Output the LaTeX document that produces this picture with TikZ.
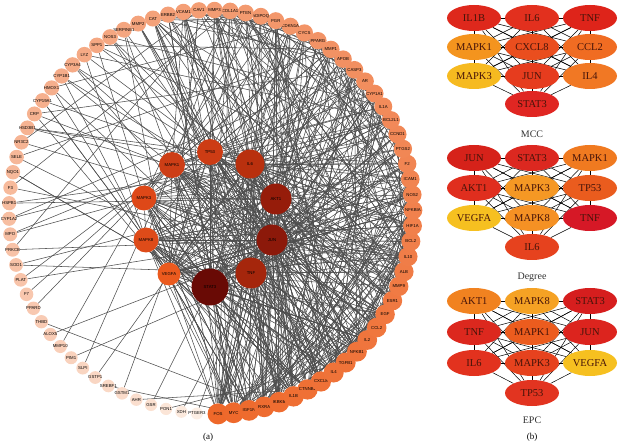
\documentclass[tikz,border=0pt]{standalone}
\usepackage{fontspec}
\setmainfont{Liberation Serif}
\setsansfont{Liberation Sans}
\usetikzlibrary{backgrounds,shapes.geometric}
\definecolor{ringA}{RGB}{238,104,42}
\definecolor{ringB}{RGB}{252,238,228}
\definecolor{edgegray}{RGB}{78,78,78}
\definecolor{elltext}{RGB}{70,20,10}
\begin{document}
\begin{tikzpicture}[x=1pt,y=-1pt,
  ring/.style={circle,inner sep=0pt,draw=none},
  rlab/.style={font=\fontsize{4.3}{5}\selectfont\sffamily,text=black,inner sep=0pt},
  hub/.style={circle,inner sep=0pt,draw=none,font=\fontsize{4.3}{5}\selectfont\sffamily,text=black},
  edge/.style={draw=edgegray,line width=0.55pt},
  ell/.style={ellipse,inner sep=0pt,minimum width=54pt,minimum height=26pt,draw=none,
     font=\fontsize{10.5}{12}\selectfont,text=elltext},
  bedge/.style={draw=black,line width=0.5pt},
  captext/.style={font=\fontsize{10}{12}\selectfont,text={rgb,255:red,50;green,50;blue,50}},
]
\useasboundingbox (0,0) rectangle (621,446);

% ring nodes
\foreach \name [count=\i] in {FOS,MYC,IGF1R,RXRA,IKBKB,IL1B,CTNNB1,CXCL8,IL4,TGFB1,NFKB1,IL2,CCL2,EGF,ESR1,MMP9,ALB,IL10,BCL2,HIF1A,NFKBIA,NOS2,ICAM1,F2,PTGS2,CCND1,BCL2L1,IL1A,CYP1A1,AR,CASP3,APOB,MMP1,PPARG,CYCS,CDKN1A,PGR,ADIPOQ,PTEN,COL1A1,MMP3,CAV1,VCAM1,ERBB2,CAT,MMP2,SERPINE1,NOS3,SPP1,LYZ,CYP3A4,CYP1B1,HMOX1,CYP19A1,CRP,HSD3B1,NR3C2,SELE,NQO1,F3,HSPB1,CYP1A2,MPO,PRKCB,SOD1,PLAT,F7,PPARD,THBD,ALOX5,MMP10,PIM1,SLPI,GSTP1,SREBF1,GSTM1,AHR,GSR,PON1,XDH,PTGER3}{
  \pgfmathsetmacro{\ang}{-88+(\i-1)*4.425}
  \pgfmathsetmacro{\tq}{(\i-1)/80}
  \pgfmathtruncatemacro{\pp}{100*(1.0001-\tq)^0.7}
  \pgfmathsetmacro{\dia}{21-9*\tq}
  \node[ring,fill=ringA!\pp!ringB,minimum size=\dia pt,label={[rlab]center:\name}] (r\i)
     at ({211+202*cos(\ang)},{212-202*sin(\ang)}) {};
}

% hub nodes
\node[hub,fill={rgb,255:red,205;green,62;blue,22},minimum size=26pt] (h1) at (172,165) {MAPK1};
\node[hub,fill={rgb,255:red,205;green,60;blue,20},minimum size=26pt] (h2) at (210,152) {TP53};
\node[hub,fill={rgb,255:red,185;green,48;blue,14},minimum size=29pt] (h3) at (250,164) {IL6};
\node[hub,fill={rgb,255:red,150;green,28;blue,10},minimum size=31pt] (h4) at (276,199) {AKT1};
\node[hub,fill={rgb,255:red,222;green,72;blue,24},minimum size=25pt] (h5) at (144,198) {MAPK3};
\node[hub,fill={rgb,255:red,140;green,25;blue,10},minimum size=31pt] (h6) at (272,240) {JUN};
\node[hub,fill={rgb,255:red,222;green,75;blue,25},minimum size=25pt] (h7) at (146,240) {MAPK8};
\node[hub,fill={rgb,255:red,165;green,38;blue,12},minimum size=31pt] (h8) at (251,273) {TNF};
\node[hub,fill={rgb,255:red,235;green,90;blue,30},minimum size=23pt] (h9) at (169,274) {VEGFA};
\node[hub,fill={rgb,255:red,105;green,10;blue,5},minimum size=37pt] (h10) at (210,287) {STAT3};

% panel b nodes
\node[ell,fill={rgb,255:red,222;green,40;blue,28}] (m1) at (474,18) {IL1B};
\node[ell,fill={rgb,255:red,226;green,48;blue,30}] (m2) at (532,18) {IL6};
\node[ell,fill={rgb,255:red,222;green,36;blue,26}] (m3) at (590,18) {TNF};
\node[ell,fill={rgb,255:red,244;green,148;blue,30}] (m4) at (474,47) {MAPK1};
\node[ell,fill={rgb,255:red,234;green,78;blue,30}] (m5) at (532,47) {CXCL8};
\node[ell,fill={rgb,255:red,240;green,108;blue,34}] (m6) at (590,47) {CCL2};
\node[ell,fill={rgb,255:red,246;green,186;blue,32}] (m7) at (474,76) {MAPK3};
\node[ell,fill={rgb,255:red,230;green,60;blue,30}] (m8) at (532,76) {JUN};
\node[ell,fill={rgb,255:red,241;green,120;blue,36}] (m9) at (590,76) {IL4};
\node[ell,fill={rgb,255:red,224;green,38;blue,34}] (m10) at (532,104) {STAT3};
\node[captext] (capm) at (532,134) {MCC};

\node[ell,fill={rgb,255:red,214;green,34;blue,26}] (d1) at (474,158) {JUN};
\node[ell,fill={rgb,255:red,220;green,40;blue,32}] (d2) at (532,158) {STAT3};
\node[ell,fill={rgb,255:red,240;green,122;blue,32}] (d3) at (590,158) {MAPK1};
\node[ell,fill={rgb,255:red,224;green,46;blue,30}] (d4) at (474,188) {AKT1};
\node[ell,fill={rgb,255:red,245;green,152;blue,36}] (d5) at (532,188) {MAPK3};
\node[ell,fill={rgb,255:red,234;green,92;blue,30}] (d6) at (590,188) {TP53};
\node[ell,fill={rgb,255:red,246;green,192;blue,32}] (d7) at (474,218) {VEGFA};
\node[ell,fill={rgb,255:red,245;green,145;blue,36}] (d8) at (532,218) {MAPK8};
\node[ell,fill={rgb,255:red,214;green,24;blue,38}] (d9) at (590,218) {TNF};
\node[ell,fill={rgb,255:red,230;green,66;blue,30}] (d10) at (532,247) {IL6};
\node[captext] (capd) at (532,277) {Degree};

\node[ell,fill={rgb,255:red,241;green,130;blue,32}] (e1) at (474,301) {AKT1};
\node[ell,fill={rgb,255:red,245;green,162;blue,36}] (e2) at (532,301) {MAPK8};
\node[ell,fill={rgb,255:red,214;green,30;blue,30}] (e3) at (590,301) {STAT3};
\node[ell,fill={rgb,255:red,220;green,40;blue,30}] (e4) at (474,332) {TNF};
\node[ell,fill={rgb,255:red,236;green,92;blue,30}] (e5) at (532,332) {MAPK1};
\node[ell,fill={rgb,255:red,220;green,36;blue,30}] (e6) at (590,332) {JUN};
\node[ell,fill={rgb,255:red,226;green,50;blue,30}] (e7) at (474,363) {IL6};
\node[ell,fill={rgb,255:red,230;green,66;blue,30}] (e8) at (532,363) {MAPK3};
\node[ell,fill={rgb,255:red,246;green,192;blue,32}] (e9) at (590,363) {VEGFA};
\node[ell,fill={rgb,255:red,226;green,52;blue,32}] (e10) at (532,393) {TP53};
\node[captext] (cape) at (532,420) {EPC};

\node[font=\fontsize{9}{11}\selectfont] (la) at (208,437) {(a)};
\node[font=\fontsize{9}{11}\selectfont] (lb) at (532,437) {(b)};

\begin{pgfonlayer}{background}
  % hub-hub
  \foreach \a in {1,...,9}{
    \pgfmathtruncatemacro{\s}{\a+1}
    \foreach \b in {\s,...,10}{ \draw[edge] (h\a) -- (h\b); }
  }
  % ring edges (deterministic pseudo-random)
  \pgfmathsetseed{4711}
  \foreach \i in {1,...,81}{
    \pgfmathtruncatemacro{\dg}{1+round(20*(1.0001-(\i-1)/80)^2.2)}
    \foreach \k in {1,...,\dg}{
      \pgfmathrandominteger{\rr}{1}{100}
      \ifnum\rr<56\relax
        \pgfmathrandominteger{\hh}{1}{10}
        \draw[edge] (r\i) -- (h\hh);
      \else
        \pgfmathrandominteger{\jj}{1}{45}
        \ifnum\jj=\i\relax\else \draw[edge] (r\i) -- (r\jj);\fi
      \fi
    }
  }
  % panel b: complete graphs
  \foreach \p in {m,d,e}{
    \foreach \a in {1,...,9}{
      \pgfmathtruncatemacro{\s}{\a+1}
      \foreach \b in {\s,...,10}{ \draw[bedge] (\p\a) -- (\p\b); }
    }
  }
\end{pgfonlayer}
\end{tikzpicture}
\end{document}
